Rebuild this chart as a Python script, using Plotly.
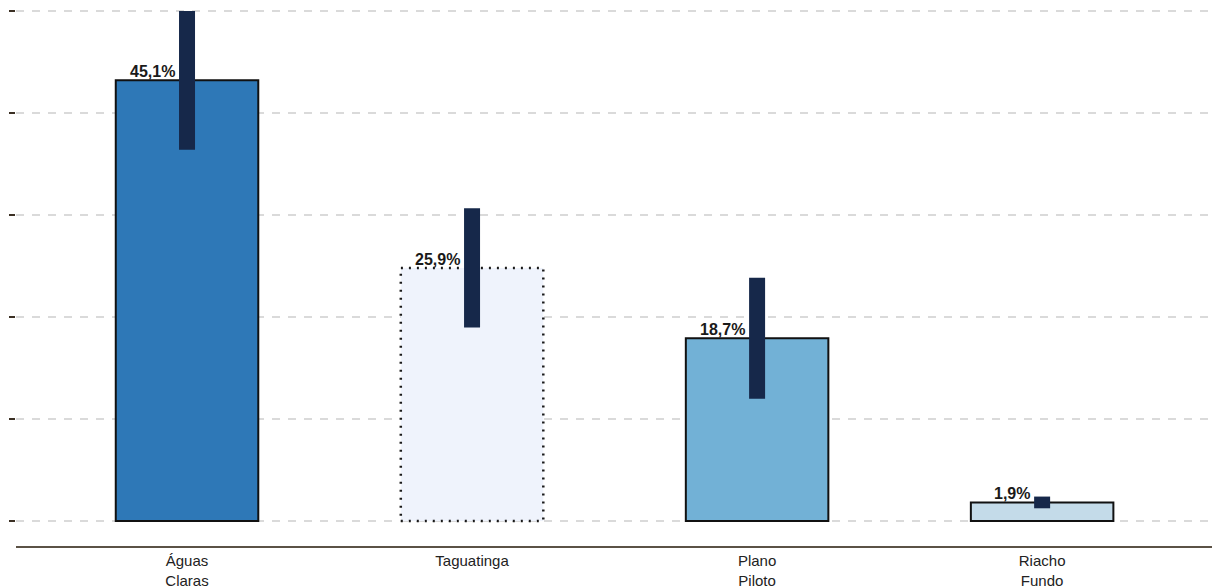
import plotly.graph_objects as go
import numpy as np

categories = ["Águas<br>Claras", "Taguatinga", "Plano<br>Piloto", "Riacho<br>Fundo"]
values = [45.1, 25.9, 18.7, 1.9]
errors = [7.1, 6.1, 6.2, 0.6]
labels = ["45,1%", "25,9%", "18,7%", "1,9%"]
colors = ["#2e78b7", "#eff3fc", "#72b1d6", "#c4dbe9"]
dotted = [False, True, False, False]

FONT = "Liberation Sans, Arial, Helvetica, sans-serif"

xs = list(range(len(categories)))
bar_colors = ["rgba(0,0,0,0)" if d else c for c, d in zip(colors, dotted)]
line_widths = [0 if d else 2 for d in dotted]

fig = go.Figure()
fig.add_trace(go.Bar(
    x=xs, y=values, width=0.5,
    marker=dict(color=bar_colors, line=dict(color="#111111", width=line_widths)),
    error_y=dict(type="data", array=errors, visible=True, thickness=16, width=0, color="#16284a"),
    hoverinfo="skip",
))

# dotted outline bars
for i, (v, c, d) in enumerate(zip(values, colors, dotted)):
    if d:
        fig.add_shape(type="rect", xref="x", yref="y", x0=i - 0.25, x1=i + 0.25, y0=0, y1=v,
                      fillcolor=c, line=dict(color="#1a1a1a", width=2.5, dash="2px,6px"),
                      layer="between")

for i, (v, t) in enumerate(zip(values, labels)):
    fig.add_annotation(x=i, y=v, text="<b>%s</b>" % t, showarrow=False, xanchor="right",
                       yanchor="bottom", xshift=-10, yshift=-2,
                       font=dict(family=FONT, size=16, color="#1a1a1a"))

ymax = max(v + e for v, e in zip(values, errors))
ymin = -ymax * 25 / 510

fig.update_layout(
    width=1212, height=588,
    margin=dict(l=16, r=0, t=8, b=42),
    plot_bgcolor="white", paper_bgcolor="white",
    showlegend=False,
    font=dict(family=FONT, size=15, color="#222222"),
)
fig.update_xaxes(
    tickmode="array", tickvals=xs, ticktext=categories,
    range=[-0.6, 3.596], showgrid=False, zeroline=False,
    showline=True, linecolor="#5b5246", linewidth=2, ticks="",
    tickfont=dict(family=FONT, size=15, color="#222222"),
    automargin=False,
)
fig.update_yaxes(
    range=[ymin, ymax + 0.3], tickmode="array", tickvals=list(np.linspace(0, ymax, 6)),
    showticklabels=False, ticks="outside", ticklen=6, tickwidth=2, tickcolor="#3b3024",
    showgrid=True, gridcolor="#dadada", gridwidth=2, griddash="8px,8px",
    zeroline=False, showline=False, automargin=False,
)

fig.write_html("out.html", config={"displayModeBar": False},
               post_script="document.body.style.margin='0';document.body.style.overflow='hidden';")
